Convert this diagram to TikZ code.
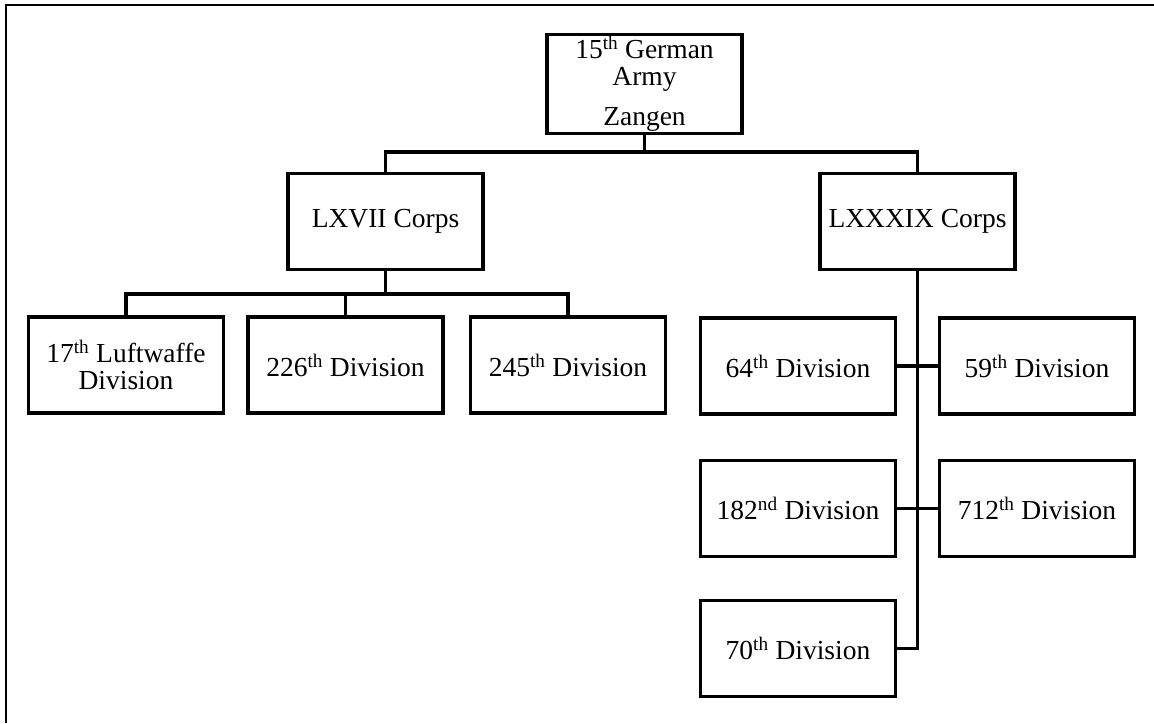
\documentclass[tikz,border=0pt]{standalone}
\usepackage{fontspec}
\setmainfont{Liberation Serif}
\begin{document}
\begin{tikzpicture}[x=1pt,y=-1pt,
  unit/.style={draw=black, line width=3.1pt, fill=white, minimum width=195pt, minimum height=96pt,
    inner sep=2pt, align=center, font=\fontsize{27.5}{27}\selectfont},
  link/.style={draw=black, line width=3.1pt},
  frame/.style={draw=black, line width=2.4pt}]
\useasboundingbox (0,0) rectangle (1154,723);
\draw[frame] (6,723) -- (6,5) -- (1154,5);

\node[unit] (army) at (644.5,84) {15\textsuperscript{th} German\\Army\\[13pt]Zangen};
\node[unit] (c67) at (385.5,221.5) {LXVII Corps};
\node[unit] (c89) at (917.5,221.5) {LXXXIX Corps};

\node[unit] (d17) at (126,365) {17\textsuperscript{th} Luftwaffe\\Division};
\node[unit] (d226) at (345.5,365) {226\textsuperscript{th} Division};
\node[unit] (d245) at (568,365) {245\textsuperscript{th} Division};

\node[unit] (d64) at (798,366) {64\textsuperscript{th} Division};
\node[unit] (d59) at (1037,366) {59\textsuperscript{th} Division};
\node[unit] (d182) at (798,508.5) {182\textsuperscript{nd} Division};
\node[unit] (d712) at (1037,508.5) {712\textsuperscript{th} Division};
\node[unit] (d70) at (798,648.5) {70\textsuperscript{th} Division};

\coordinate (bus1) at (644.5,152);
\coordinate (bus2) at (385.5,294);

\draw[link] (army.south) -- (bus1);
\draw[link] (c67.north) |- (bus1) -| (c89.north);

\draw[link] (c67.south) -- (bus2);
\draw[link] (d17.north) |- (bus2) -| (d245.north);
\draw[link] (d226.north) -- (d226.north |- bus2);

\draw[link] (c89.south) -- (c89.south |- d70.east) -- (d70.east);
\draw[link] (d64.east) -- (d59.west);
\draw[link] (d182.east) -- (d712.west);
\end{tikzpicture}
\end{document}
